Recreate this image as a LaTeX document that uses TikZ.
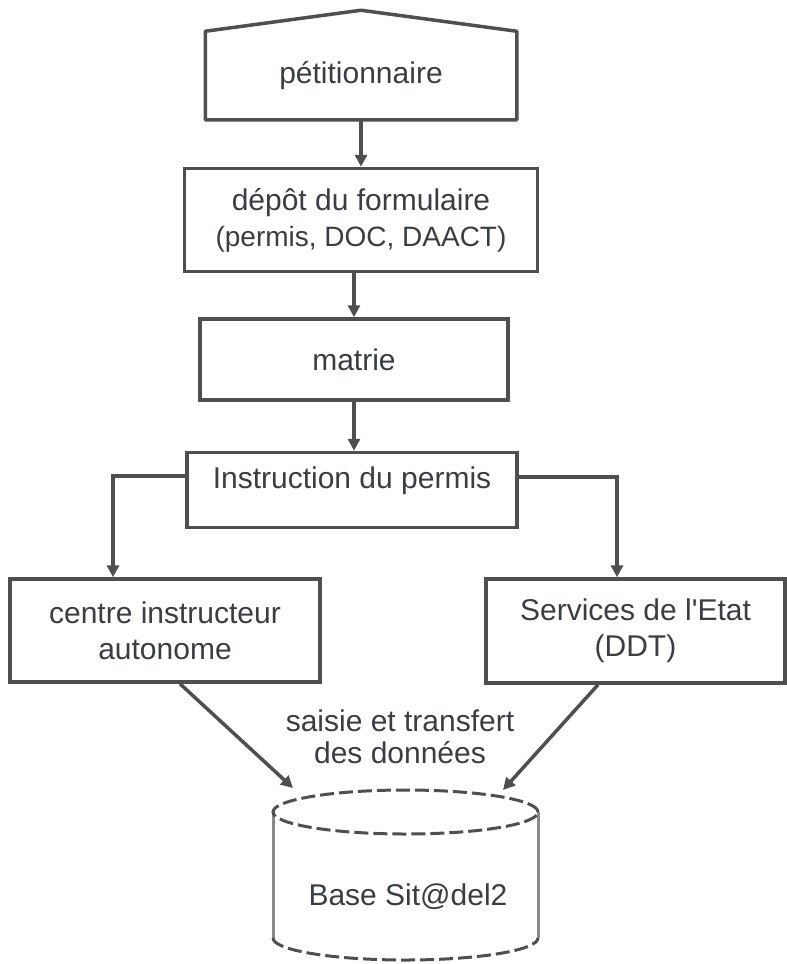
\documentclass[tikz,border=0pt]{standalone}
\usepackage{fontspec}
\setmainfont{Liberation Sans}
\usepackage{tikz}
\usetikzlibrary{arrows.meta,positioning,calc}
\usepackage{xcolor}
\definecolor{boxgrey}{HTML}{4F4F4F}
\definecolor{textgrey}{HTML}{3B3D45}
\definecolor{sidegrey}{HTML}{8A8A8A}

\begin{document}
\begin{tikzpicture}[x=1pt, y=1pt,
  every node/.style={font=\fontsize{30}{36}\selectfont, text=textgrey},
  box/.style={draw=boxgrey, line width=3.5pt, fill=white, align=center, inner sep=0pt},
  link/.style={draw=boxgrey, line width=3.5pt, -{Triangle[length=12pt,width=12pt]}},
  cylline/.style={boxgrey, line width=3pt, dash pattern=on 14pt off 5pt}]
\useasboundingbox (0,0) rectangle (787,-964);
\node[box, draw=none, minimum width=308pt, minimum height=85pt] (petit) at (361,-75.5) {pétitionnaire};
\draw[boxgrey, line width=3.5pt, line join=round] (petit.south west) -- (petit.north west)
  -- ([yshift=21pt]petit.north) -- (petit.north east) -- (petit.south east) -- cycle;
\node[box, minimum width=353pt, minimum height=103pt, below=47pt of petit] (depot)
  {dépôt du formulaire\\{\fontsize{28}{37}\selectfont (permis, DOC, DAACT)}};
\node[box, minimum width=308pt, minimum height=81pt, below=44pt of depot, xshift=-7pt] (matrie) {matrie};
\node[box, minimum width=330pt, minimum height=75pt, text depth=24pt, below=49pt of matrie, xshift=-2pt] (instr)
  {Instruction du permis};
\node[box, minimum width=310pt, minimum height=103pt, below=48pt of instr, xshift=-187pt] (centre)
  {centre instructeur\\autonome};
\node[box, minimum width=299pt, minimum height=104pt, below=48pt of instr, xshift=283.5pt] (ddt)
  {Services de l\textquotesingle Etat\\(DDT)};
% base de donnees
\draw[sidegrey, line width=3pt] (273,-812) -- (273,-938) (538,-812) -- (538,-938);
\draw[cylline] (405.5,-812) ellipse [x radius=132.5pt, y radius=22pt];
\draw[cylline] (273,-938) arc [start angle=180, end angle=360, x radius=132.5pt, y radius=22pt];
\node (base) at (408,-897) {Base Sit@del2};
\coordinate (inl) at (293,-788);
\coordinate (inr) at (503,-790);
\node[align=center, font=\fontsize{30}{32}\selectfont] (flux) at (400,-737) {saisie et transfert\\des données};
% liens
\draw[link] (petit) -- (depot);
\draw[link] (matrie.north |- depot.south) -- (matrie.north);
\draw[link] (matrie.south) -- (matrie.south |- instr.north);
\draw[link] ([yshift=14pt]instr.west) -| ([xshift=-52pt]centre.north);
\draw[link] ([yshift=13pt]instr.east) -| ([xshift=-18.5pt]ddt.north);
\draw[link] ([xshift=15pt]centre.south) -- (inl);
\draw[link] ([xshift=-37.5pt]ddt.south) -- (inr);
\end{tikzpicture}
\end{document}
